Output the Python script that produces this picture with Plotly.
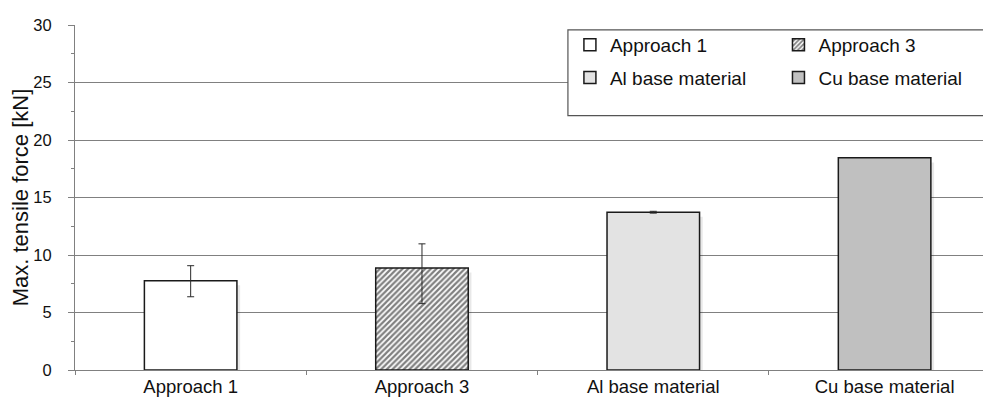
import plotly.graph_objects as go

categories = ["Approach 1", "Approach 3", "Al base material", "Cu base material"]
values = [7.77, 8.87, 13.72, 18.45]
err_plus = [1.3, 2.1, 0.08, 0.0]
err_minus = [1.4, 3.1, 0.08, 0.0]
colors = ["#ffffff", "#ffffff", "#e3e3e3", "#c0c0c0"]
patterns = ["", "/", "", ""]
legend_ids = ["legend", "legend2", "legend", "legend2"]
y_ticks = [0, 5, 10, 15, 20, 25, 30]

FONT = "Liberation Sans, Arial, sans-serif"
fig = go.Figure()

# soft shadows
for i, c in enumerate(categories):
    fig.add_trace(go.Bar(
        x=[c], y=[values[i] - 0.2], base=-0.2, width=0.4, offset=-0.2 + 0.014,
        marker=dict(color="rgba(0,0,0,0.09)", line=dict(width=0)),
        showlegend=False, hoverinfo="skip"))

for i, c in enumerate(categories):
    show_err = err_plus[i] > 0 or err_minus[i] > 0
    fig.add_trace(go.Bar(
        x=[c], y=[values[i]], name=c, width=0.4,
        legend=legend_ids[i], legendgroup=c,
        marker=dict(color=colors[i], line=dict(color="#1a1a1a", width=1.5),
                    pattern=dict(shape=patterns[i], fgcolor="#000000", bgcolor="#ffffff",
                                 size=4, solidity=0.55) if patterns[i] else None),
        error_y=dict(type="data", symmetric=False, array=[err_plus[i]], arrayminus=[err_minus[i]],
                     color="#2a2a2a", thickness=1, width=3.5, visible=show_err),
    ))

# page body has an 8px default margin; the plot frame below is in screen pixels
PL, PW, PB, PH = 73, 918, 370.5, 350.5
def px(x):
    return (x - PL) / PW
def py(y):
    return (PB - y) / PH

legend_common = dict(
    orientation="v", xref="paper", yref="paper", xanchor="left", yanchor="top",
    borderwidth=0, bgcolor="rgba(0,0,0,0)", tracegroupgap=5,
    font=dict(family=FONT, size=19, color="#111111"), traceorder="grouped",
)

fig.update_layout(
    width=991, height=405,
    margin=dict(l=65, r=8, t=12, b=43),
    plot_bgcolor="white", paper_bgcolor="white",
    barmode="overlay",
    font=dict(family=FONT, size=18, color="#111111"),
    legend=dict(x=px(569), y=py(21), **legend_common),
    legend2=dict(x=px(778), y=py(21), **legend_common),
    shapes=[dict(type="rect", xref="paper", yref="paper",
                 x0=px(567), x1=px(990), y0=py(112), y1=py(25),
                 line=dict(color="#555555", width=1.2), fillcolor="white", layer="above")],
    xaxis=dict(
        range=[-0.5, 3.46], showline=True, linecolor="#808080", linewidth=1,
        ticks="outside", tickson="boundaries", ticklen=4, tickcolor="#808080",
        showgrid=False, tickfont=dict(size=18.5),
    ),
    yaxis=dict(
        range=[0, 30], tickvals=y_ticks, showline=True, linecolor="#808080", linewidth=1,
        ticks="outside", ticklen=6, tickcolor="#808080", ticklabelstandoff=13,
        minor=dict(ticks="outside", ticklen=3, dtick=2.5, tickcolor="#808080", showgrid=False),
        showgrid=True, gridcolor="#808080", gridwidth=1, zeroline=False,
        title=dict(text="Max. tensile force [kN]", font=dict(size=22), standoff=2),
        tickfont=dict(size=16.5),
    ),
)

fig.write_html("out.html")
